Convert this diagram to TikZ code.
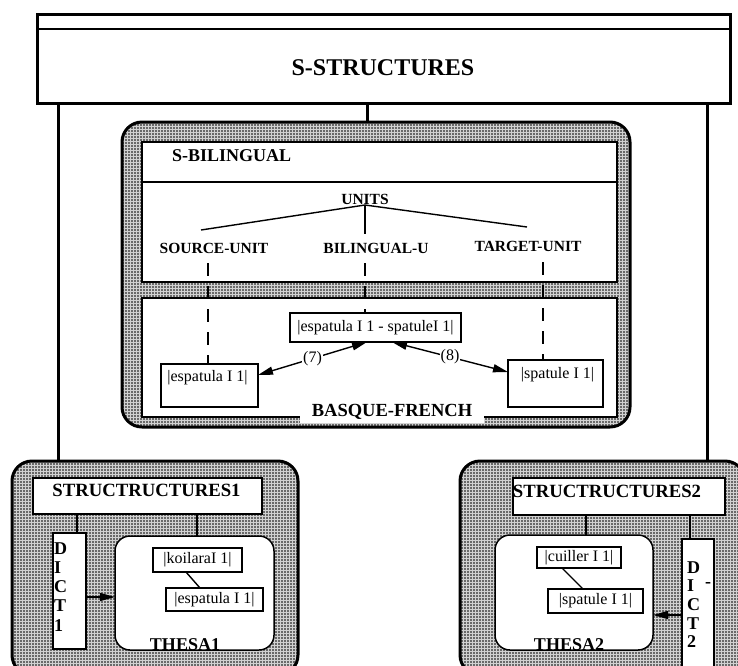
\documentclass[tikz,border=0pt]{standalone}
\usepackage{fontspec}
\setmainfont{Liberation Serif}
\usetikzlibrary{patterns.meta,arrows.meta}

% fine halftone used for the grey panels
\tikzdeclarepattern{
  name=halftone,
  type=uncolored,
  bounding box={(-1.5pt,-1.5pt) and (1.5pt,1.5pt)},
  tile size={(3pt,3pt)},
  code={\fill (0pt,0pt) circle (0.85pt);}
}

\tikzset{
  frame/.style={draw, line width=3pt, fill=white, inner sep=0pt, outer sep=0pt},
  panel/.style={draw, line width=3pt, rounded corners=20pt, pattern=halftone,
    pattern color=black, preaction={fill=black!18}, inner sep=0pt, outer sep=0pt},
  pane/.style={draw, fill=white, line width=1.5pt, inner sep=0pt, outer sep=0pt},
  roundpane/.style={pane, rounded corners=15pt},
  wordbox/.style={draw, fill=white, line width=1.3pt, inner sep=0pt, outer sep=0pt,
    font=\fontsize{16}{19}\selectfont},
  plain/.style={inner sep=0pt, font=\fontsize{16}{19}\selectfont},
  heading/.style={inner sep=0pt, font=\fontsize{18.5}{22}\selectfont\bfseries},
  treelabel/.style={inner sep=0pt, font=\fontsize{15.5}{18}\selectfont\bfseries},
  letter/.style={inner sep=0pt, anchor=base west, font=\fontsize{18}{20}\selectfont\bfseries},
  link/.style={line width=3pt},
  thinlink/.style={line width=1.4pt},
  dashlink/.style={line width=1.3pt, dash pattern=on 13pt off 10pt},
  >={Triangle[length=15pt,width=8pt]}
}

\begin{document}
\begin{tikzpicture}[x=1pt, y=-1pt]
\useasboundingbox (0,0) rectangle (738,665);
\clip (0,0) rectangle (738,665);

% ---------- top structure ----------
\node[frame, minimum width=693pt, minimum height=89pt] (top) at (383.5,58.5) {};
\draw[line width=1.2pt] ([yshift=-15pt]top.north west) -- ([yshift=-15pt]top.north east);
\node[inner sep=0pt, anchor=base, font=\fontsize{24}{28}\selectfont\bfseries] (title) at (383,75) {S-STRUCTURES};

% ---------- bilingual panel ----------
\node[panel, minimum width=508pt, minimum height=305pt] (bil) at (376,274.5) {};
\node[pane, minimum width=475pt, minimum height=140pt] (bilhead) at (379.5,212) {};
\draw[line width=1.3pt] ([yshift=-40pt]bilhead.north west) -- ([yshift=-40pt]bilhead.north east);
\node[pane, minimum width=475pt, minimum height=119pt] (bilnet) at (379.5,357.5) {};

\node[heading, font=\fontsize{18}{22}\selectfont\bfseries, anchor=base west] (bilname) at (172,161) {S-BILINGUAL};
\node[treelabel, anchor=base] (units) at (365,204) {UNITS};
\node[treelabel, anchor=base] (src) at (214,253) {SOURCE-UNIT};
\node[treelabel, anchor=base] (bilu) at (376,253) {BILINGUAL-U};
\node[treelabel, anchor=base] (tgt) at (528,251) {TARGET-UNIT};

\coordinate (root) at (365,205);
\coordinate (leafL) at (201,230);
\coordinate (leafM) at (365,234);
\coordinate (leafR) at (527,227);
\draw[thinlink] (root) -- (leafL);
\draw[thinlink] (root) -- (leafM);
\draw[thinlink] (root) -- (leafR);

% lexical units
\node[wordbox, minimum width=171pt, minimum height=29pt] (mbox) at (375.5,327.5) {|espatula I 1 - spatuleI 1|};
\node[wordbox, minimum width=97pt, minimum height=43pt] (lbox) at (209.5,385.5) {};
\node[plain, anchor=base] (ltext) at (207.5,381) {|espatula I 1|};
\node[wordbox, minimum width=95pt, minimum height=47pt] (rbox) at (555.5,383.5) {};
\node[plain, anchor=base] (rtext) at (557.5,378) {|spatule I 1|};

\coordinate (srcfoot) at (208,263);
\coordinate (bilfoot) at (365,263);
\coordinate (tgtfoot) at (543,262);
\draw[dashlink] (srcfoot) -- (srcfoot |- lbox.north);
\draw[dashlink] (bilfoot) -- (bilfoot |- mbox.north);
\draw[dashlink] (tgtfoot) -- (tgtfoot |- rbox.north);

\draw[thinlink, <->] (lbox.east |- 0,375) -- node[plain, fill=white, inner sep=1pt] (seven) {(7)} (mbox.south -| 367,0);
\draw[thinlink, <->] (mbox.south -| 392,0) -- node[plain, fill=white, inner sep=1pt] (eight) {(8)} (rbox.west |- 0,372);

\node[heading, anchor=base, fill=white, inner xsep=12pt, inner ysep=4pt] (pairname) at (392,416) {BASQUE-FRENCH};

% ---------- left language panel ----------
\node[panel, minimum width=286pt, minimum height=214pt] (lft) at (155,568) {};
\node[pane, minimum width=229pt, minimum height=36pt] (s1) at (147.5,496) {};
\node[heading, font=\fontsize{18.7}{22}\selectfont\bfseries, anchor=base] (s1name) at (146.5,496) {STRUCTRUCTURES1};
\node[pane, minimum width=33pt, minimum height=116pt] (dict1) at (69.5,591) {};
\foreach \ch [count=\i] in {D,I,C,T,1}
  \node[letter] (dictA\i) at (54,{554+19.3*(\i-1)}) {\ch};
\node[roundpane, minimum width=159pt, minimum height=114pt] (thesa1) at (194.5,593) {};
\node[wordbox, minimum width=89pt, minimum height=24pt] (k1) at (197.5,560) {|koilaraI 1|};
\node[wordbox, minimum width=97pt, minimum height=23pt] (e1) at (214.5,599.5) {|espatula I 1|};
\node[heading, font=\fontsize{18}{22}\selectfont\bfseries, anchor=base] (thesaA) at (185,650) {THESA1};

\draw[thinlink] (k1.south -| 186,0) -- (e1.north -| 200,0);
\draw[line width=1.2pt] (s1.south -| 77,0) -- (dict1.north -| 77,0);
\draw[line width=1.2pt] (s1.south -| 197,0) -- (thesa1.north -| 197,0);
\draw[thinlink, ->] (dict1.east |- 0,597) -- (thesa1.west |- 0,597);

% ---------- right language panel ----------
\node[panel, minimum width=285pt, minimum height=214pt] (rgt) at (602.5,568) {};
\node[pane, minimum width=212pt, minimum height=37pt] (s2) at (619,496.5) {};
\node[heading, font=\fontsize{18.7}{22}\selectfont\bfseries, anchor=base] (s2name) at (607,497) {STRUCTRUCTURES2};
\node[roundpane, minimum width=158pt, minimum height=115pt] (thesa2) at (574,592.5) {};
\node[wordbox, minimum width=84pt, minimum height=21pt] (c2) at (579,557.5) {|cuiller I 1|};
\node[wordbox, minimum width=95pt, minimum height=24pt] (sp2) at (595.5,601) {|spatule I 1|};
\node[heading, font=\fontsize{18}{22}\selectfont\bfseries, anchor=base] (thesaB) at (569,650) {THESA2};
\node[pane, minimum width=32pt, minimum height=141pt] (dict2) at (698,609.5) {};
\foreach \ch [count=\i] in {D,I,C,T,2}
  \node[letter] (dictB\i) at (687,{573+18.7*(\i-1)}) {\ch};
\node[letter, anchor=center] (dictdash) at (708,585) {-};

\draw[thinlink] (c2.south -| 562,0) -- (sp2.north -| 583,0);
\draw[line width=1.2pt] (s2.south -| 586,0) -- (thesa2.north -| 586,0);
\draw[line width=1.2pt] (s2.south -| 690,0) -- (dict2.north -| 690,0);
\draw[thinlink, ->] (dict2.west |- 0,615) -- (thesa2.east |- 0,615);

% ---------- links from the top structure ----------
\draw[link] (top.south -| 58,0) -- (lft.north -| 58,0);
\draw[link] (top.south -| 367,0) -- (bil.north -| 367,0);
\draw[link] (top.south -| 707,0) -- (rgt.north -| 707,0);
\end{tikzpicture}
\end{document}
